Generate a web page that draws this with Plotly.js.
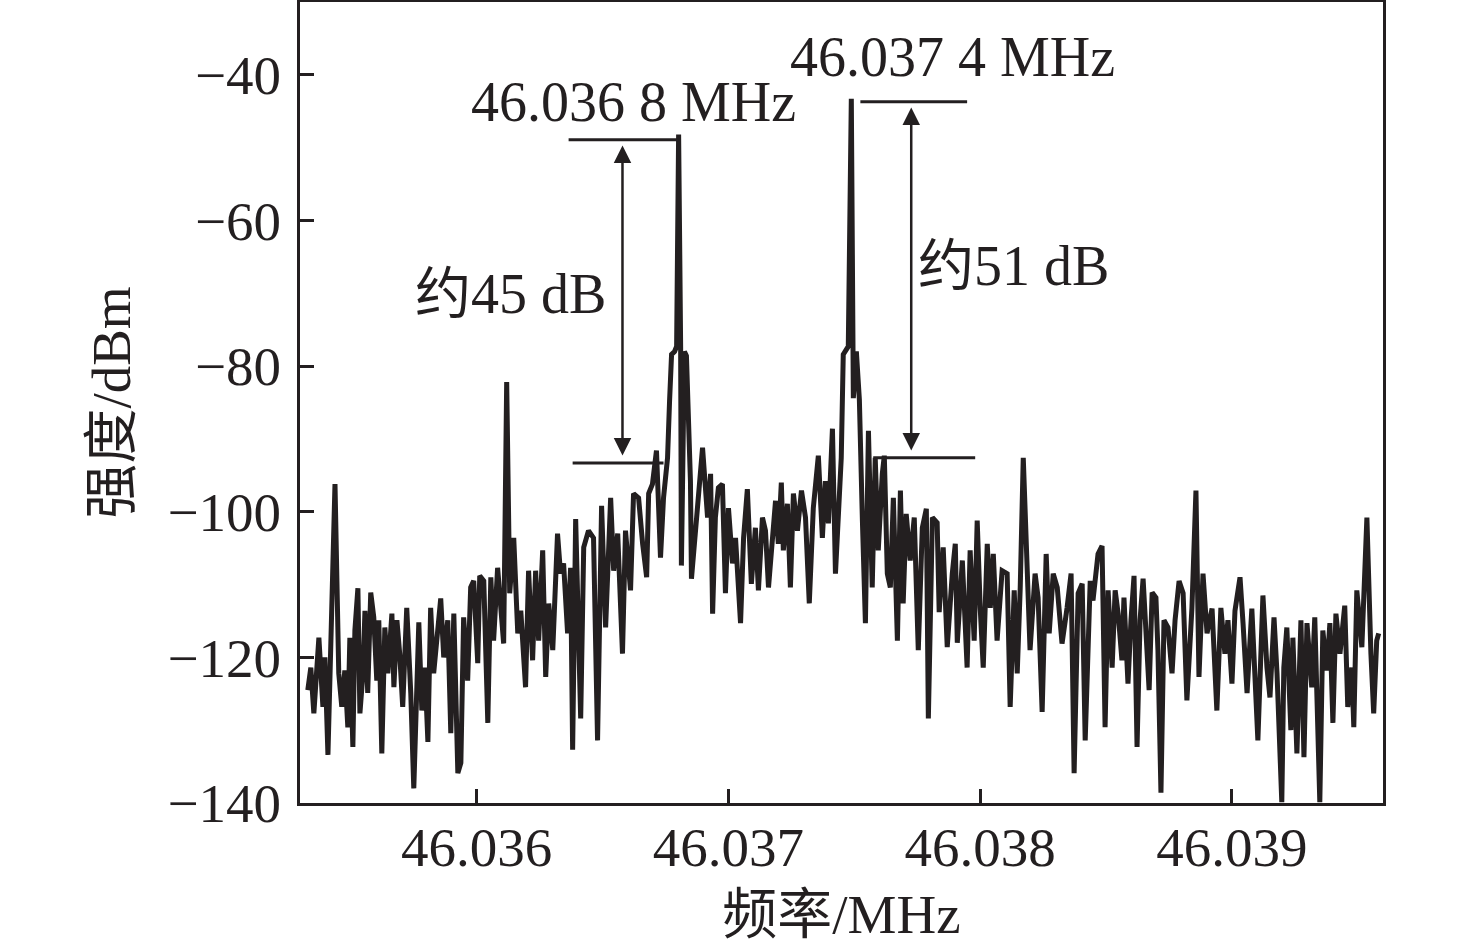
<!DOCTYPE html>
<html>
<head>
<meta charset="utf-8">
<script src="https://cdn.plot.ly/plotly-3.0.1.min.js"></script>
<style>html,body{margin:0;padding:0;background:#fff;}#chart{width:1476px;height:948px;}</style>
</head>
<body>
<div id="chart"></div>
<script>
// Frequency (MHz) and power (dBm)
const freqMHz = [
46.035329,46.035341,46.035353,46.035365,46.035373,46.035389,46.035397,46.035409,46.035421,46.035437,
46.035452,46.035464,46.035476,46.035488,46.035496,46.035508,46.035516,46.035528,46.035536,46.035548,
46.035556,46.035567,46.035579,46.035591,46.035603,46.035611,46.035623,46.035635,46.035647,46.035663,
46.035671,46.035683,46.035694,46.035706,46.035722,46.035738,46.035750,46.035762,46.035770,46.035782,
46.035794,46.035806,46.035817,46.035829,46.035845,46.035857,46.035869,46.035885,46.035897,46.035909,
46.035925,46.035937,46.035948,46.035964,46.035976,46.035988,46.036004,46.036012,46.036028,46.036044,
46.036056,46.036067,46.036083,46.036095,46.036107,46.036119,46.036131,46.036147,46.036163,46.036175,
46.036194,46.036206,46.036222,46.036234,46.036246,46.036262,46.036274,46.036286,46.036302,46.036321,
46.036333,46.036345,46.036361,46.036373,46.036381,46.036393,
46.036413,46.036425,46.036444,46.036464,46.036480,46.036496,46.036512,46.036532,46.036544,46.036560,
46.036579,46.036591,46.036611,46.036623,46.036643,46.036659,46.036675,46.036683,46.036698,46.036714,
46.036730,46.036742,46.036758,46.036766,46.036774,46.036786,46.036794,46.036802,46.036810,46.036813,
46.036825,46.036833,46.036841,46.036849,46.036853,
46.036897,46.036917,46.036929,46.036937,46.036948,46.036960,46.036976,46.036988,
46.037000,46.037016,46.037028,46.037048,46.037060,46.037075,46.037091,46.037107,46.037119,46.037135,
46.037147,46.037159,46.037175,46.037187,46.037198,46.037210,46.037218,46.037234,46.037246,46.037258,
46.037274,46.037290,46.037306,46.037321,46.037337,46.037357,46.037373,46.037385,46.037397,46.037413,
46.037425,46.037437,
46.037448,46.037456,46.037464,46.037476,46.037488,46.037496,46.037508,46.037520,46.037532,46.037544,46.037556,
46.037571,46.037583,46.037595,46.037611,46.037619,46.037631,46.037643,46.037655,46.037671,46.037683,
46.037694,46.037706,46.037722,46.037738,46.037754,46.037770,46.037786,46.037794,46.037810,46.037829,
46.037837,46.037853,46.037869,46.037889,46.037901,46.037909,46.037929,46.037948,46.037960,46.037976,
46.037988,46.038000,46.038012,46.038028,46.038040,46.038052,46.038067,46.038087,46.038107,46.038119,
46.038135,46.038147,46.038159,46.038171,46.038187,46.038198,46.038218,46.038230,46.038246,46.038262,
46.038274,46.038290,46.038306,46.038325,46.038345,46.038361,46.038373,46.038389,46.038405,46.038417,
46.038437,46.038448,46.038468,46.038484,46.038496,
46.038508,46.038524,46.038536,46.038548,46.038563,46.038571,46.038587,46.038599,46.038611,46.038623,
46.038635,46.038647,46.038663,46.038671,46.038683,46.038698,46.038706,46.038718,46.038730,46.038746,
46.038762,46.038774,46.038790,46.038806,46.038821,46.038841,46.038857,46.038869,46.038885,46.038901,
46.038921,46.038940,46.038956,46.038972,46.038984,46.039000,46.039012,46.039032,46.039044,46.039060,
46.039079,46.039091,46.039103,46.039123,46.039139,46.039151,46.039167,46.039179,46.039198,46.039206,
46.039218,46.039234,46.039242,46.039258,46.039274,46.039286,46.039298,46.039317,46.039329,46.039349,
46.039361,46.039377,46.039389,46.039401,46.039413,46.039429,46.039448,46.039460,46.039476,46.039484,
46.039496,46.039516,46.039536,46.039552,46.039563,46.039575,46.039583
];
const powerDbm = [
-124.5,-121.4,-127.7,-122.2,-117.3,-126.8,-120.0,-133.4,-118.6,-96.2,
-122.2,-126.8,-121.8,-129.6,-117.3,-132.3,-116.3,-110.5,-127.7,-122.2,
-113.6,-124.9,-111.1,-114.5,-123.2,-114.9,-133.2,-115.9,-122.2,-114.0,
-124.1,-114.9,-119.5,-126.8,-113.2,-124.9,-138.0,-122.2,-115.2,-127.3,
-121.4,-131.6,-113.2,-122.2,-115.9,-111.9,-120.0,-114.9,-130.4,-114.0,
-135.9,-134.5,-114.5,-123.2,-110.4,-109.5,-120.8,-108.8,-109.5,-129.0,
-109.0,-117.7,-107.7,-112.6,-118.1,-82.2,-111.2,-103.6,-116.7,-113.6,
-124.1,-108.1,-120.4,-108.1,-117.7,-105.3,-122.7,-112.6,-119.0,-103.0,
-108.5,-107.1,-116.7,-107.7,-132.7,-101.0,
-128.4,-104.9,-102.6,-103.6,-131.4,-99.2,-115.9,-98.1,-108.1,-103.0,
-119.5,-102.6,-110.8,-97.5,-98.1,-104.4,-109.0,-97.5,-96.2,-91.6,
-106.3,-98.1,-92.6,-84.8,-78.4,-78.0,-77.3,-48.2,-77.3,-107.4,
-78.0,-78.6,-90.3,-95.8,-109.2,
-91.2,-100.8,-94.8,-114.0,-100.8,-96.7,-96.2,-111.2,
-99.5,-107.1,-103.6,-115.3,-103.6,-96.9,-109.9,-102.2,-110.8,-100.8,
-102.6,-110.4,-102.6,-98.5,-104.4,-96.0,-105.3,-98.9,-110.4,-97.5,
-102.6,-97.1,-100.8,-112.6,-99.5,-92.3,-103.6,-95.8,-101.6,-88.6,
-108.5,-100.3,
-92.6,-78.4,-78.0,-77.3,-43.3,-84.4,-78.0,-84.6,-101.2,-115.3,-88.9,
-110.4,-92.6,-105.3,-94.8,-92.3,-108.5,-110.4,-98.1,-117.7,-97.1,
-112.6,-100.3,-106.7,-100.8,-119.0,-102.2,-99.6,-128.4,-100.8,-101.5,
-113.8,-104.9,-118.6,-108.5,-104.4,-118.0,-106.7,-121.4,-105.3,-117.7,
-101.2,-113.2,-121.4,-104.4,-113.2,-105.8,-117.7,-108.1,-108.5,-126.8,
-110.8,-122.2,-110.4,-92.6,-110.4,-119.0,-108.5,-111.8,-127.5,-105.8,
-116.7,-108.5,-110.4,-118.1,-113.2,-108.5,-135.9,-111.2,-109.9,-131.4,
-109.5,-112.2,-105.8,-104.7,-129.6,
-110.8,-121.4,-110.8,-114.0,-120.4,-111.8,-123.6,-114.9,-108.8,-132.3,
-114.9,-109.2,-119.0,-124.5,-111.1,-111.8,-119.0,-138.6,-114.9,-115.9,
-122.2,-114.9,-109.5,-111.2,-125.9,-113.2,-97.1,-122.7,-108.5,-116.7,
-113.3,-127.3,-113.2,-119.5,-114.9,-123.6,-113.6,-109.0,-115.3,-124.9,
-113.3,-122.2,-131.4,-111.5,-121.4,-125.5,-114.5,-122.2,-139.9,-121.4,
-115.9,-130.0,-117.3,-133.2,-114.9,-133.7,-115.3,-124.1,-114.5,-139.9,
-116.3,-121.8,-115.3,-129.0,-114.0,-119.5,-112.9,-126.8,-121.4,-129.6,
-110.8,-118.6,-100.8,-119.5,-127.7,-117.7,-116.7
];
// Axis ticks
const xTickVals = [46.036, 46.037, 46.038, 46.039];
const xTickText = ["46.036", "46.037", "46.038", "46.039"];
const yTickVals = [-140, -120, -100, -80, -60, -40];

// Annotation content
const peakLabels = ["46.036 8 MHz", "46.037 4 MHz"];
const gapLabels = ["约45 dB", "约51 dB"];
// marker levels (dBm): [top, bottom] for each peak
const markerTop = [-48.9, -43.7];
const markerBottom = [-93.3, -92.6];
const markerTopX = [[46.036365, 46.036802], [46.037524, 46.037948]];
const markerBotX = [[46.036381, 46.036742], [46.037575, 46.037980]];
const arrowX = [46.036579, 46.037726];

const ink = '#231f20';
const fam = '"Liberation Serif", "Times New Roman", "Noto Sans CJK SC", serif';

const trace = {
  x: freqMHz, y: powerDbm, type: 'scatter', mode: 'lines',
  line: {color: ink, width: 5}, hoverinfo: 'skip'
};

const shapes = [];
for (let i = 0; i < 2; i++) {
  shapes.push({type:'line', xref:'x', yref:'y', x0:markerTopX[i][0], x1:markerTopX[i][1], y0:markerTop[i], y1:markerTop[i], line:{color:ink, width:3}});
  shapes.push({type:'line', xref:'x', yref:'y', x0:markerBotX[i][0], x1:markerBotX[i][1], y0:markerBottom[i], y1:markerBottom[i], line:{color:ink, width:3}});
}

const annFont = {family:fam, size:56, color:ink};
const annotations = [
  {x:46.036623, y:-43.7, xref:'x', yref:'y', text:peakLabels[0], showarrow:false, xanchor:'center', yanchor:'middle', font:annFont},
  {x:46.037889, y:-37.5, xref:'x', yref:'y', text:peakLabels[1], showarrow:false, xanchor:'center', yanchor:'middle', font:annFont},
  {x:46.036135, y:-70.1, xref:'x', yref:'y', text:gapLabels[0], showarrow:false, xanchor:'center', yanchor:'middle', font:annFont},
  {x:46.038131, y:-66.3, xref:'x', yref:'y', text:gapLabels[1], showarrow:false, xanchor:'center', yanchor:'middle', font:annFont}
];
for (let i = 0; i < 2; i++) {
  annotations.push({
    x: arrowX[i], y: markerTop[i] - 0.8, xref:'x', yref:'y',
    ax: arrowX[i], ay: markerBottom[i] + 0.8, axref:'x', ayref:'y',
    text:'', showarrow:true, arrowside:'end+start', arrowhead:2, startarrowhead:2,
    arrowsize:1.4, startarrowsize:1.4, arrowwidth:2.5, arrowcolor:ink, standoff:0, startstandoff:0
  });
}

const layout = {
  width: 1476, height: 948,
  margin: {l: 300, r: 93, t: 2, b: 145},
  paper_bgcolor: '#fff', plot_bgcolor: '#fff',
  showlegend: false,
  xaxis: {
    range: [46.035298, 46.0396], tickvals: xTickVals, ticktext: xTickText,
    ticks: 'inside', ticklen: 14, tickwidth: 3, tickcolor: ink,
    showline: true, linewidth: 3, linecolor: ink, mirror: true,
    showgrid: false, zeroline: false, ticklabelstandoff: -6,
    tickfont: {family: fam, size: 55, color: ink},
    title: {text: '频率/MHz', font: {family: fam, size: 55, color: ink}, standoff: 18},
    automargin: false
  },
  yaxis: {
    range: [-140, -30], tickvals: yTickVals,
    ticks: 'inside', ticklen: 14, tickwidth: 3, tickcolor: ink,
    showline: true, linewidth: 3, linecolor: ink, mirror: true,
    showgrid: false, zeroline: false, ticklabelstandoff: 5,
    tickfont: {family: fam, size: 55, color: ink},
    title: {text: '强度/dBm', font: {family: fam, size: 55, color: ink}, standoff: 20},
    automargin: false
  },
  shapes: shapes,
  annotations: annotations
};

Plotly.newPlot('chart', [trace], layout, {displayModeBar: false, staticPlot: true});
</script>
</body>
</html>
